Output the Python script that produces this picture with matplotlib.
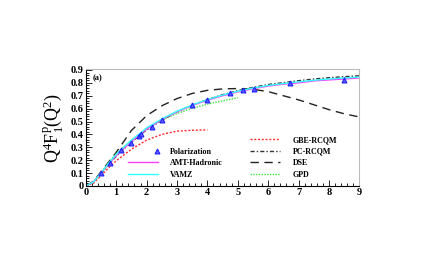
import matplotlib
matplotlib.use("Agg")
import matplotlib.pyplot as plt
from matplotlib.ticker import MultipleLocator
from matplotlib.legend_handler import HandlerLine2DCompound

plt.rcParams['font.family'] = ['Liberation Serif', 'DejaVu Serif']
plt.rcParams['mathtext.fontset'] = 'custom'
plt.rcParams['mathtext.rm'] = 'Liberation Serif'
plt.rcParams['mathtext.it'] = 'Liberation Serif:italic'

# Polarization data (points)
pol_q2 = [0.5, 0.8, 1.17, 1.5, 1.75, 1.8, 2.17, 2.5, 3.5, 4.0, 4.75, 5.16, 5.54, 6.7, 8.5]
pol_f = [0.10, 0.18, 0.275, 0.335, 0.39, 0.40, 0.46, 0.515, 0.63, 0.665, 0.72, 0.745, 0.75, 0.80, 0.825]
pol_err = [0.01, 0.01, 0.01, 0.01, 0.01, 0.01, 0.01, 0.01, 0.012, 0.012, 0.012, 0.012, 0.012, 0.012, 0.02]

# model curves
q2_full = [0, 0.25, 0.5, 0.75, 1, 1.5, 2, 2.5, 3, 3.5, 4, 4.5, 5, 5.5, 6, 6.5, 7, 7.5, 8, 8.5, 9]
amt = [0, 0.03, 0.10, 0.17, 0.235, 0.345, 0.44, 0.515, 0.575, 0.625, 0.665, 0.70, 0.73, 0.755, 0.775,
       0.79, 0.80, 0.815, 0.823, 0.83, 0.838]
vamz = [0, 0.03, 0.10, 0.175, 0.245, 0.355, 0.45, 0.52, 0.58, 0.628, 0.67, 0.705, 0.735, 0.76, 0.78,
        0.795, 0.808, 0.82, 0.83, 0.838, 0.845]
pcrcqm = [0, 0.03, 0.095, 0.165, 0.23, 0.34, 0.435, 0.51, 0.575, 0.627, 0.67, 0.708, 0.74, 0.765, 0.787,
          0.802, 0.817, 0.83, 0.84, 0.848, 0.855]
dse = [0, 0.035, 0.11, 0.185, 0.26, 0.43, 0.545, 0.622, 0.678, 0.718, 0.742, 0.753, 0.756, 0.75, 0.732,
       0.70, 0.668, 0.63, 0.592, 0.56, 0.535]

q2_gbe = [0, 0.25, 0.5, 0.75, 1, 1.5, 2, 2.5, 3, 3.5, 4]
gbe = [0, 0.02, 0.08, 0.14, 0.195, 0.285, 0.355, 0.40, 0.425, 0.432, 0.435]

q2_gpd = [0, 0.25, 0.5, 0.75, 1, 1.5, 2, 2.5, 3, 3.5, 4, 4.5, 5]
gpd = [0, 0.03, 0.10, 0.18, 0.25, 0.355, 0.445, 0.51, 0.562, 0.602, 0.635, 0.66, 0.685]

x_ticks = list(range(10))
y_ticks = [i / 10 for i in range(10)]
y_ticklabels = ['0'] + ['0.%d' % i for i in range(1, 10)]


class RightMarkerHandler(HandlerLine2DCompound):
    # put the marker at the right end of the handle box, like ROOT legends
    def get_xdata(self, legend, xdescent, ydescent, width, height, fontsize):
        xdata, _ = super().get_xdata(legend, xdescent, ydescent, width, height, fontsize)
        return xdata, [width - xdescent - 1]


fig = plt.figure(figsize=(4.31, 2.73), dpi=100)
ax = fig.add_axes([0.199, 0.319, 0.635, 0.427])

l_gbe, = ax.plot(q2_gbe, gbe, color='#ff3030', ls=(0, (1.5, 1.2)), lw=1.0)
l_pc, = ax.plot(q2_full, pcrcqm, color='#333333', ls=(0, (3, 1.5, 1, 1.5)), lw=1.0)
l_dse, = ax.plot(q2_full, dse, color='#222222', ls=(0, (6, 4)), lw=1.0)
l_gpd, = ax.plot(q2_gpd, gpd, color='#40e040', ls=(0, (1, 1)), lw=1.0)
l_amt, = ax.plot(q2_full, amt, color='#ff40ff', lw=1.0)
l_vamz, = ax.plot(q2_full, vamz, color='#30ffff', lw=1.0)
ax.errorbar(pol_q2, pol_f, yerr=pol_err, fmt='none', ecolor='#2020ff', elinewidth=1.0)
l_pol, = ax.plot(pol_q2, pol_f, ls='none', marker='^', ms=3.5, color='#2020ff',
                 markerfacecolor='#6060ff', markeredgewidth=0.8)

ax.set_xlim(0, 9)
ax.set_ylim(0, 0.905)
ax.set_xticks(x_ticks)
ax.set_xticklabels([str(v) for v in x_ticks], fontweight='bold')
ax.set_yticks(y_ticks)
ax.set_yticklabels(y_ticklabels, fontweight='bold')
ax.xaxis.set_minor_locator(MultipleLocator(0.2))
ax.yaxis.set_minor_locator(MultipleLocator(0.02))
ax.tick_params(which='both', direction='in', labelsize=7.5, pad=1.5, width=0.6)
ax.tick_params(which='major', length=4)
ax.tick_params(which='minor', length=2)

for s in ['top', 'right']:
    ax.spines[s].set_color('#bbbbbb')
for s in ax.spines.values():
    s.set_linewidth(0.8)

ax.set_ylabel(r'$\mathrm{Q^4F_1^p(Q^2)}$', fontsize=13, labelpad=4)
ax.text(0.025, 0.96, '(a)', transform=ax.transAxes, fontsize=6, fontweight='bold', va='top')

leg_kw = dict(frameon=False, prop={'size': 5.8, 'weight': 'bold'}, handlelength=3.7,
              labelspacing=0.45, borderpad=0, borderaxespad=0)
leg1 = ax.legend([l_pol, l_amt, l_vamz], ['Polarization', 'AMT-Hadronic', 'VAMZ'],
                 loc='lower left', bbox_to_anchor=(0.155, 0.06), handletextpad=1.45,
                 handler_map={l_pol: RightMarkerHandler(numpoints=1)}, **leg_kw)
ax.add_artist(leg1)
ax.legend([l_gbe, l_pc, l_dse, l_gpd], ['GBE-RCQM', 'PC-RCQM', 'DSE', 'GPD'],
          loc='lower left', bbox_to_anchor=(0.60, 0.06), handletextpad=1.6, **leg_kw)

fig.savefig('out.png', dpi=100)
